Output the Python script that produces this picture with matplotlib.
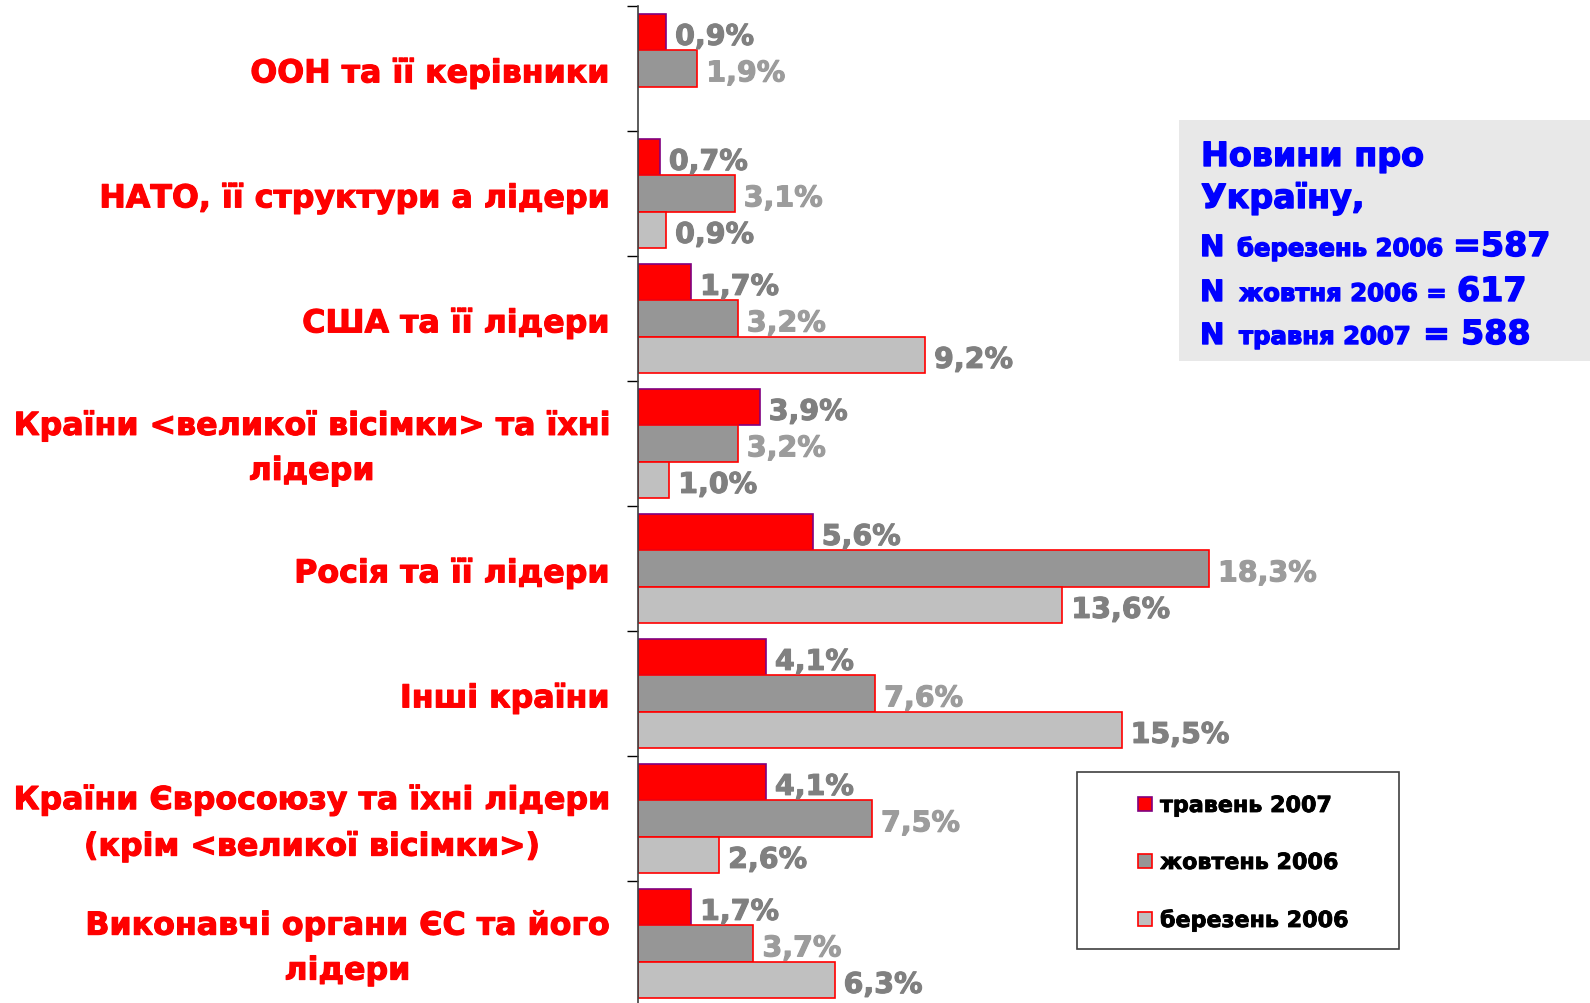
import matplotlib.pyplot as plt
import matplotlib.patheffects as pe
from matplotlib.patches import Rectangle
from matplotlib.transforms import blended_transform_factory
import numpy as np

plt.rcParams['font.family'] = ['DejaVu Sans']
plt.rcParams['font.weight'] = 'bold'

categories = [
    'ООН та її керівники',
    'НАТО, її структури а лідери',
    'США та її лідери',
    'Країни <великої вісімки> та їхні\nлідери',
    'Росія та її лідери',
    'Інші країни',
    'Країни Євросоюзу та їхні лідери\n(крім <великої вісімки>)',
    'Виконавчі органи ЄС та його\nлідери',
]
series_names = ['травень 2007', 'жовтень 2006', 'березень 2006']
may_2007 = [0.9, 0.7, 1.7, 3.9, 5.6, 4.1, 4.1, 1.7]
oct_2006 = [1.9, 3.1, 3.2, 3.2, 18.3, 7.6, 7.5, 3.7]
mar_2006 = [None, 0.9, 9.2, 1.0, 13.6, 15.5, 2.6, 6.3]

fills = ['#FF0000', '#969696', '#C0C0C0']
edges = ['#800080', '#FF0000', '#FF0000']
label_cols = ['#808080', '#9C9C9C', '#808080']


def heavy(c, w=0.8):
    # thicken DejaVu Bold a little to look like the heavy original face
    return [pe.Stroke(linewidth=w, foreground=c), pe.Normal()]


W, H = 1590, 1004
fig = plt.figure(figsize=(W / 100, H / 100), dpi=100)
ax = fig.add_axes([638 / W, -0.003, 936 / W, 1000 / H])

y = np.arange(len(categories))
bh = 0.292
offsets = [-bh, 0, bh]
for k, vals in enumerate([may_2007, oct_2006, mar_2006]):
    for i, v in enumerate(vals):
        if v is None:
            continue
        ax.barh(y[i] + offsets[k], v, height=bh, color=fills[k],
                edgecolor=edges[k], linewidth=1.2)
        ax.annotate(f'{v:.1f}%'.replace('.', ','), xy=(v, y[i] + offsets[k]),
                    xytext=(6.5, -3.5), textcoords='offset points',
                    ha='left', va='center', fontsize=20.5,
                    color=label_cols[k], fontweight='bold',
                    path_effects=heavy(label_cols[k]))

ax.set_xlim(0, 30)
ax.set_ylim(7.5, -0.5)
ax.set_yticks(np.arange(-0.5, 8.0, 1.0))
ax.set_yticklabels([])
ax.tick_params(axis='y', direction='out', length=8, width=1, color='black')
ax.set_xticks([])
for s in ['top', 'right', 'bottom']:
    ax.spines[s].set_visible(False)
ax.spines['left'].set_color('#404040')
ax.spines['left'].set_linewidth(1.2)
ax.patch.set_visible(False)

trans = blended_transform_factory(ax.transAxes, ax.transData)
for i, lab in enumerate(categories):
    ax.annotate(lab, xy=(0, y[i]), xycoords=trans, xytext=(-21, -3.5),
                textcoords='offset points', ha='right', va='center',
                multialignment='center', fontsize=22.8, color='#FF0000',
                fontweight='bold', linespacing=1.58, annotation_clip=False,
                path_effects=heavy('#FF0000'))

# info box
fig.patches.append(Rectangle((1179 / W, 1 - 362 / H), 411 / W, 241 / H,
                             transform=fig.transFigure, facecolor='#E8E8E8',
                             edgecolor='none', zorder=0))
blue = '#0000FF'


def px(x, yy, s, size):
    fig.text(x / W, 1 - yy / H, s, fontsize=size, color=blue,
             fontweight='bold', ha='left', va='baseline',
             path_effects=heavy(blue, 1.0))


px(1201, 167, 'Новини про', 24)
px(1201, 209, 'Україну,', 24)
px(1200, 257, 'N', 21)
px(1237, 257, 'березень 2006', 17.5)
px(1453, 257, '=587', 24)
px(1200, 302, 'N', 21)
px(1239, 302, 'жовтня 2006 =', 17.5)
px(1457, 302, '617', 24)
px(1200, 345, 'N', 21)
px(1239, 345, 'травня 2007', 17.5)
px(1422, 345, '=', 24)
px(1461, 345, '588', 24)

# legend
fig.patches.append(Rectangle((1077 / W, 1 - 950 / H), 322 / W, 177 / H,
                             transform=fig.transFigure, facecolor='white',
                             edgecolor='#404040', linewidth=1.2))
rows = [813, 870, 928]
for k, name in enumerate(series_names):
    top = rows[k] - 15
    fig.patches.append(Rectangle((1138 / W, 1 - (top + 14) / H), 14 / W, 14 / H,
                                 transform=fig.transFigure, facecolor=fills[k],
                                 edgecolor=edges[k], linewidth=1.2))
    fig.text(1160 / W, 1 - rows[k] / H, name, fontsize=16, color='black',
             fontweight='bold', ha='left', va='baseline',
             path_effects=heavy('black', 0.6))

fig.savefig('out.png', dpi=100)
